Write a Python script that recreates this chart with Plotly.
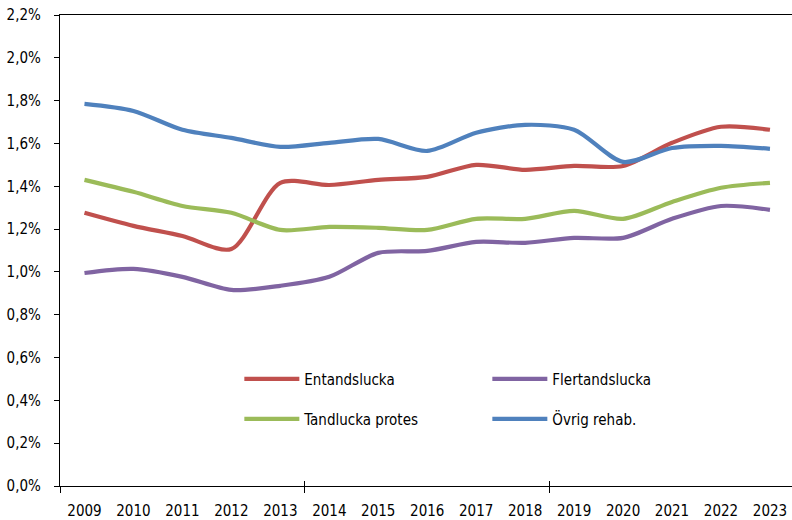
import plotly.graph_objects as go

years = [str(y) for y in range(2009, 2024)]
entandslucka = [1.276, 1.215, 1.168, 1.107, 1.416, 1.406, 1.430, 1.444, 1.500, 1.477, 1.495, 1.495, 1.603, 1.678, 1.664]
flertandslucka = [0.995, 1.014, 0.977, 0.916, 0.935, 0.977, 1.089, 1.098, 1.140, 1.136, 1.159, 1.159, 1.248, 1.308, 1.290]
tandlucka_protes = [1.430, 1.374, 1.308, 1.276, 1.196, 1.210, 1.206, 1.196, 1.248, 1.248, 1.285, 1.248, 1.327, 1.393, 1.416]
ovrig_rehab = [1.785, 1.752, 1.664, 1.626, 1.584, 1.603, 1.621, 1.565, 1.650, 1.687, 1.664, 1.514, 1.579, 1.589, 1.575]
y_ticks = [0.0, 0.2, 0.4, 0.6, 0.8, 1.0, 1.2, 1.4, 1.6, 1.8, 2.0, 2.2]
y_ticktext = [f"{v:.1f}".replace(".", ",") + "%" for v in y_ticks]

FONT = "DejaVu Sans Condensed, DejaVu Sans, sans-serif"
FS = 15

series = [
    ("Entandslucka", entandslucka, "#C0504D", "legend"),
    ("Flertandslucka", flertandslucka, "#8064A2", "legend"),
    ("Tandlucka protes", tandlucka_protes, "#9BBB59", "legend2"),
    ("Övrig rehab.", ovrig_rehab, "#4F81BD", "legend2"),
]

fig = go.Figure()
for name, vals, col, leg in series:
    fig.add_trace(go.Scatter(
        x=years, y=vals, name=name, mode="lines",
        line=dict(color=col, width=4.2, shape="spline", smoothing=0.8),
        legend=leg,
    ))

# helper traces for the crossing tick marks on category boundaries
fig.add_trace(go.Scatter(x=[None], y=[None], xaxis="x2", showlegend=False, hoverinfo="skip"))
fig.add_trace(go.Scatter(x=[None], y=[None], xaxis="x3", showlegend=False, hoverinfo="skip"))

xr = [-0.5, 14.45]
fig.update_layout(
    width=792, height=520,
    margin=dict(l=60, r=0, t=15, b=34),
    paper_bgcolor="white", plot_bgcolor="white",
    font=dict(family=FONT, size=FS, color="#000000"),
    showlegend=True,
    xaxis=dict(
        type="category", range=xr, showgrid=False, zeroline=False,
        showline=True, linecolor="#000000", linewidth=1.3, mirror=True,
        ticks="", ticklabelstandoff=11,
        tickfont=dict(family=FONT, size=FS),
    ),
    xaxis2=dict(
        overlaying="x", range=xr, showgrid=False, zeroline=False,
        showline=False, ticks="outside", ticklen=6, tickwidth=1, tickcolor="#000000",
        tickvals=[-0.5, 4.5, 9.5], showticklabels=False, side="bottom",
    ),
    xaxis3=dict(
        overlaying="x", range=xr, showgrid=False, zeroline=False,
        showline=False, ticks="inside", ticklen=5, tickwidth=1, tickcolor="#000000",
        tickvals=[4.5, 9.5], showticklabels=False, side="bottom",
    ),
    yaxis=dict(
        range=[0, 2.2], tickvals=y_ticks, ticktext=y_ticktext,
        showgrid=False, zeroline=False, showline=True, linecolor="#000000", linewidth=1.3,
        ticks="outside", ticklen=5, tickwidth=1, tickcolor="#000000",
        ticklabelstandoff=10, tickfont=dict(family=FONT, size=FS),
    ),
    legend=dict(
        orientation="h", x=0.245, y=0.227, xanchor="left", yanchor="middle",
        entrywidth=178, entrywidthmode="pixels", itemwidth=55,
        font=dict(family=FONT, size=FS), bgcolor="rgba(0,0,0,0)",
    ),
    legend2=dict(
        orientation="h", x=0.245, y=0.142, xanchor="left", yanchor="middle",
        entrywidth=178, entrywidthmode="pixels", itemwidth=55,
        font=dict(family=FONT, size=FS), bgcolor="rgba(0,0,0,0)",
    ),
)

fig.write_html("out.html", config={"displayModeBar": False},
               post_script="document.body.style.margin='0';")
